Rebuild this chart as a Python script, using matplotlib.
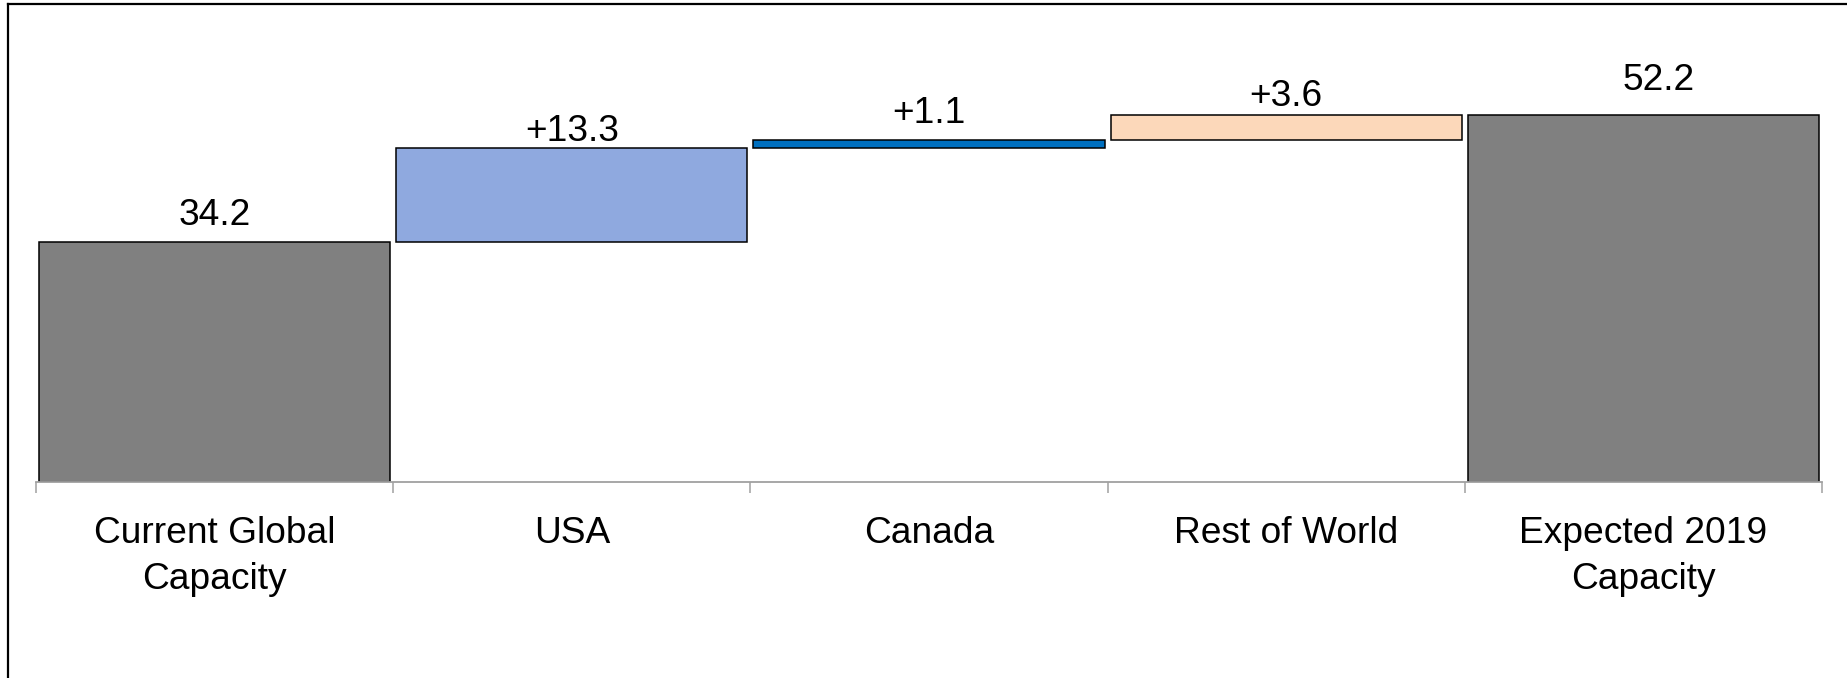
import numpy as np
import matplotlib.pyplot as plt
from matplotlib.lines import Line2D

plt.rcParams['font.family'] = ['Liberation Sans', 'DejaVu Sans']

# data
categories = ['Current Global\nCapacity', 'USA', 'Canada', 'Rest of World', 'Expected 2019\nCapacity']
start_value = 34.2
deltas = [13.3, 1.1, 3.6]
end_value = 52.2
labels = ['34.2', '+13.3', '+1.1', '+3.6', '52.2']

colors = ['#808080', '#8FA9DF', '#0070C0', '#FCD8BA', '#808080']
# label nudges in pixels (dx, gap above bar top to baseline)
label_dx = [0, 0, 0, 0, 15]
label_gap = [17, 7, 17, 9, 25]

W, H, DPI = 1847, 678, 100
fig = plt.figure(figsize=(W / DPI, H / DPI), dpi=DPI)
ax = fig.add_axes([36 / W, 1 - 482 / H, (1822 - 36) / W, (482 - 32) / H])

heights = [start_value] + deltas + [end_value]
bottoms = [0] + list(start_value + np.cumsum([0] + deltas[:-1])) + [0]
x = np.arange(len(categories))

ax.bar(x, heights, bottom=bottoms, width=0.983, color=colors,
       edgecolor='black', linewidth=1.1)

for i in range(len(x)):
    top = bottoms[i] + heights[i]
    ax.annotate(labels[i], (x[i], top), xytext=(label_dx[i] * 0.72, label_gap[i] * 0.72),
                textcoords='offset points', ha='center', va='baseline', fontsize=26.7)

ax.set_xlim(-0.5, len(x) - 0.5)
ax.set_ylim(0, 64)
ax.set_xticks(x)
ax.set_xticklabels(categories, fontsize=26.7, linespacing=1.42)
ax.set_xticks(np.arange(len(x) + 1) - 0.5, minor=True)
ax.tick_params(axis='x', which='major', length=0, pad=24.5)
ax.tick_params(axis='x', which='minor', length=8, width=1.1, color='#A0A0A0', direction='out')
ax.set_yticks([])
for s in ['left', 'right', 'top']:
    ax.spines[s].set_visible(False)
ax.spines['bottom'].set_color('#A0A0A0')
ax.spines['bottom'].set_linewidth(1.3)

# outer frame (left and top edges show)
fig.add_artist(Line2D([7.5 / W, 7.5 / W], [0, 1 - 3.5 / H], transform=fig.transFigure,
                      color='black', linewidth=1.6))
fig.add_artist(Line2D([7.5 / W, 1], [1 - 3.5 / H, 1 - 3.5 / H], transform=fig.transFigure,
                      color='black', linewidth=1.6))

fig.savefig('out.png', dpi=DPI)
